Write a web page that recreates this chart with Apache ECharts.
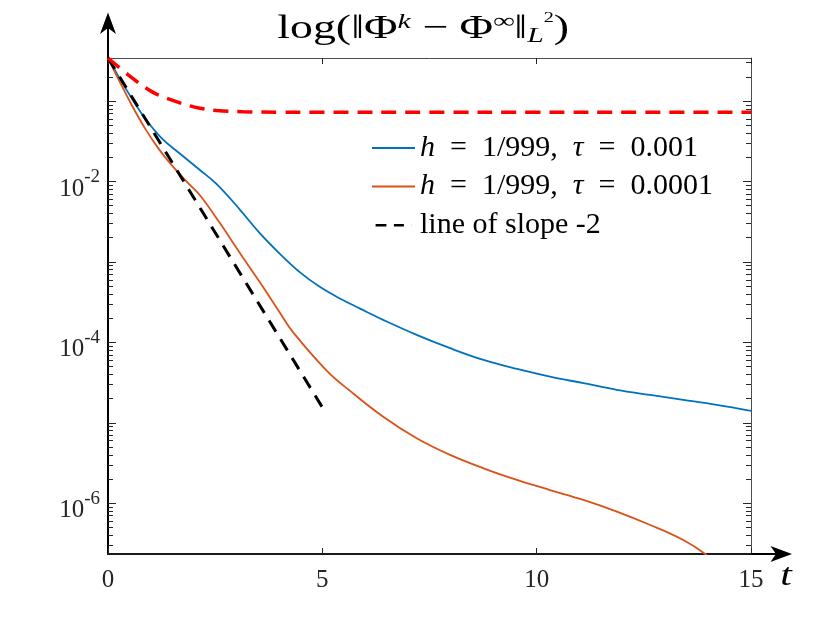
<!DOCTYPE html>
<html>
<head>
<meta charset="utf-8">
<script src="https://cdn.jsdelivr.net/npm/echarts@6/dist/echarts.min.js"></script>
<style>html,body{margin:0;padding:0;background:#fff}#c{width:830px;height:623px}</style>
</head>
<body>
<div id="c"></div>
<script>
// ---------------- data ----------------
const seriesNames = ['h = 1/999, τ = 0.001', 'h = 1/999, τ = 0.0001', 'line of slope -2'];

const tBlue = [0, 0.25, 0.55, 0.86, 1.25, 1.71, 2.15, 2.53, 3.08, 3.54, 4.01, 4.48, 4.94, 5.41, 5.88, 6.42, 7.2, 7.98, 8.76, 9.54, 10.31, 11.09, 11.87, 12.65, 13.42, 14.2, 15];
const vBlue = [3.43e-1, 2.0e-1, 1.09e-1, 6.15e-2, 3.47e-2, 2.15e-2, 1.38e-2, 9.33e-3, 4.45e-3, 2.28e-3, 1.26e-3, 7.41e-4, 4.90e-4, 3.51e-4, 2.63e-4, 1.905e-4, 1.24e-4, 8.47e-5, 6.05e-5, 4.68e-5, 3.76e-5, 3.11e-5, 2.57e-5, 2.22e-5, 1.93e-5, 1.67e-5, 1.41e-5];

const tOrange = [0, 0.23, 0.55, 0.86, 1.17, 1.48, 1.87, 2.14, 2.61, 3.08, 3.54, 4.01, 4.32, 5.1, 5.64, 6.42, 7.2, 7.98, 8.76, 9.54, 10.31, 11.09, 11.87, 12.65, 13.42, 13.93, 14.5, 15];
const vOrange = [3.43e-1, 1.93e-1, 8.99e-2, 4.61e-2, 2.60e-2, 1.61e-2, 9.55e-3, 6.79e-3, 3.04e-3, 1.285e-3, 5.62e-4, 2.34e-4, 1.33e-4, 4.47e-5, 2.51e-5, 1.19e-5, 6.43e-6, 3.99e-6, 2.72e-6, 1.95e-6, 1.46e-6, 1.10e-6, 7.87e-7, 5.37e-7, 3.49e-7, 2.34e-7, 1.26e-7, 6.3e-8];

const tSlope = [0, 5];
const vSlope = [3.43e-1, 1.56e-5];

const tRed = [0, 0.47, 1.01, 1.51, 2.02, 2.53, 3.15, 4, 5, 7.5, 10, 12.5, 15];
const vRed = [3.43e-1, 2.12e-1, 1.32e-1, 1.02e-1, 8.41e-2, 7.64e-2, 7.36e-2, 7.28e-2, 7.26e-2, 7.26e-2, 7.26e-2, 7.26e-2, 7.26e-2];

const xTickValues = [0, 5, 10, 15];
const yLabelExponents = [-6, -4, -2];
const yMajorExponents = [-6, -5, -4, -3, -2, -1];
const minorMultipliers = [2, 3, 4, 5, 6, 7, 8, 9];

const X_MIN = 0, X_MAX = 15;
const Y_MIN = 2.34e-7, Y_MAX = 3.43e-1;

// ---------------- layout ----------------
const W = 830, H = 623;
const GL = 108, GT = 58, GR = 751, GB = 554;
const SERIF = '"Liberation Serif", "Times New Roman", serif';
const TICK_COLOR = '#262626';

// tick helper axes run in milli-decades (1000 * log10 of the value), aligned with the log axis
const K = 1000;
const LMIN = Math.log10(Y_MIN) * K, LMAX = Math.log10(Y_MAX) * K;
const majorTicksK = yMajorExponents.map(e => e * K);
const labelTicksK = yLabelExponents.map(e => e * K);
const minorTicksK = [];
for (let k = -7; k <= 0; k++) {
  minorMultipliers.forEach(m => {
    const e = Math.round((Math.log10(m) + k) * K);
    if (e >= LMIN && e <= LMAX) minorTicksK.push(e);
  });
}

const pairs = (t, v) => t.map((x, i) => [x, v[i]]);

function tickAxis(position, values, len, lineColor, withLabels) {
  return {
    type: 'value', position: position, min: LMIN, max: LMAX,
    axisLine: { show: true, onZero: false, lineStyle: { color: lineColor, width: 1 } },
    axisTick: { show: true, inside: true, length: len, customValues: values, lineStyle: { color: TICK_COLOR, width: 1 } },
    axisLabel: withLabels ? {
      show: true, customValues: labelTicksK, margin: 8, padding: [6, 0, 0, 0],
      formatter: v => '{h| }{b|10}{s|' + Math.round(v / K) + '}',
      rich: {
        h: { fontSize: 1, lineHeight: 34 },
        b: { fontFamily: SERIF, fontSize: 25, lineHeight: 25, verticalAlign: 'bottom', color: TICK_COLOR },
        s: { fontFamily: SERIF, fontSize: 19, lineHeight: 19, verticalAlign: 'top', color: TICK_COLOR }
      }
    } : { show: false },
    splitLine: { show: false }
  };
}

const chart = echarts.init(document.getElementById('c'), null, { renderer: 'canvas', width: W, height: H });

const legendRich = {
  i: { fontFamily: SERIF, fontStyle: 'italic', fontSize: 30, color: '#000' }
};
const solidIcon = 'path://M0,0h43v2h-43z';
const dashIcon = 'path://M0,0h13v3h-13zM22,0h12v3h-12zM42.9,0h0.1v3h-0.1z';

chart.setOption({
  animation: false,
  backgroundColor: '#fff',
  grid: { left: GL, top: GT, right: W - GR, bottom: H - GB, containLabel: false },
  legend: {
    orient: 'vertical', left: 372, top: 133, padding: 0,
    itemWidth: 43, itemHeight: 2.5, itemGap: 8.6,
    selectedMode: false,
    data: [
      { name: seriesNames[0], icon: solidIcon },
      { name: seriesNames[1], icon: solidIcon },
      { name: seriesNames[2], icon: dashIcon }
    ],
    textStyle: { fontFamily: SERIF, fontSize: 30, lineHeight: 30, color: '#000', rich: legendRich },
    formatter: name => name
      .replace(/ = /g, '\u2002=\u2002')
      .replace(/, /g, ',\u2002')
      .replace(/h/g, '{i|h}')
      .replace(/τ/g, '{i|τ}')
  },
  xAxis: [
    {
      type: 'value', position: 'bottom', min: X_MIN, max: X_MAX, interval: 5,
      axisLine: { show: true, onZero: false, lineStyle: { color: '#1a1a1a', width: 2 } },
      axisTick: { show: true, inside: true, length: 6, customValues: xTickValues, lineStyle: { color: TICK_COLOR } },
      axisLabel: { show: true, customValues: xTickValues, margin: 14, fontFamily: SERIF, fontSize: 25, color: TICK_COLOR },
      splitLine: { show: false }
    },
    {
      type: 'value', position: 'top', min: X_MIN, max: X_MAX, interval: 5,
      axisLine: { show: true, onZero: false, lineStyle: { color: '#4d4d4d', width: 1 } },
      axisTick: { show: true, inside: true, length: 6, customValues: xTickValues, lineStyle: { color: TICK_COLOR } },
      axisLabel: { show: false },
      splitLine: { show: false }
    }
  ],
  yAxis: [
    {
      type: 'log', logBase: 10, position: 'left', min: Y_MIN, max: Y_MAX,
      axisLine: { show: true, onZero: false, lineStyle: { color: '#000', width: 2 } },
      axisTick: { show: false }, axisLabel: { show: false }, splitLine: { show: false }, minorTick: { show: false }
    },
    tickAxis('left', majorTicksK, 8, 'rgba(0,0,0,0)', true),
    tickAxis('left', minorTicksK, 5, 'rgba(0,0,0,0)', false),
    tickAxis('right', majorTicksK, 8, '#4d4d4d', false),
    tickAxis('right', minorTicksK, 5, 'rgba(0,0,0,0)', false)
  ],
  series: [
    {
      name: seriesNames[0], type: 'line', xAxisIndex: 0, yAxisIndex: 0,
      data: pairs(tBlue, vBlue), showSymbol: false, symbol: 'none', smooth: 0.4, clip: true,
      lineStyle: { color: '#0072BD', width: 1.8 }, itemStyle: { color: '#0072BD' }, z: 3
    },
    {
      name: seriesNames[1], type: 'line', xAxisIndex: 0, yAxisIndex: 0,
      data: pairs(tOrange, vOrange), showSymbol: false, symbol: 'none', smooth: 0.4, clip: true,
      lineStyle: { color: '#D95319', width: 1.8 }, itemStyle: { color: '#D95319' }, z: 3
    },
    {
      name: seriesNames[2], type: 'line', xAxisIndex: 0, yAxisIndex: 0,
      data: pairs(tSlope, vSlope), showSymbol: false, symbol: 'none', clip: true,
      lineStyle: { color: '#000', width: 3, type: [13, 9] }, itemStyle: { color: '#000' }, z: 4
    },
    {
      name: 'reference', type: 'line', xAxisIndex: 0, yAxisIndex: 0,
      data: pairs(tRed, vRed), showSymbol: false, symbol: 'none', smooth: 0.4, clip: true,
      lineStyle: { color: '#FF0000', width: 3.5, type: [15, 9] }, itemStyle: { color: '#FF0000' }, z: 4
    }
  ],
  graphic: [
    { type: 'line', shape: { x1: GL, y1: GT, x2: GL, y2: 26 }, style: { stroke: '#000', lineWidth: 2 }, z: 10 },
    { type: 'polygon', shape: { points: [[GL, 12.5], [GL - 8, 34], [GL, 28], [GL + 8, 34]] }, style: { fill: '#000' }, z: 10 },
    { type: 'line', shape: { x1: GR, y1: GB, x2: 778, y2: GB }, style: { stroke: '#000', lineWidth: 2 }, z: 10 },
    { type: 'polygon', shape: { points: [[792, GB], [770.5, GB - 8], [776, GB], [770.5, GB + 8]] }, style: { fill: '#000' }, z: 10 },
    {
      type: 'text', x: 786, y: 577, scaleX: 1.3, z: 10,
      style: { text: 't', fontFamily: SERIF, fontStyle: 'italic', fontSize: 32, fill: '#000', align: 'center', verticalAlign: 'middle' }
    },
    {
      type: 'text', x: 423, y: 29, scaleX: 1.35, z: 10,
      style: {
        text: '{z| }{n|log(‖Φ}{u|k}{n| − Φ}{u|∞}{n|‖}{l|L}{q|2}{n|)}',
        align: 'center', verticalAlign: 'middle', fill: '#000',
        rich: {
          z: { fontSize: 1, lineHeight: 36 },
          n: { fontFamily: SERIF, fontSize: 34, lineHeight: 34, verticalAlign: 'middle', fill: '#000' },
          u: { fontFamily: SERIF, fontStyle: 'italic', fontSize: 22, lineHeight: 22, verticalAlign: 'top', fill: '#000' },
          l: { fontFamily: SERIF, fontStyle: 'italic', fontSize: 22, lineHeight: 28, verticalAlign: 'bottom', fill: '#000' },
          q: { fontFamily: SERIF, fontSize: 15, lineHeight: 30, verticalAlign: 'top', fill: '#000' }
        }
      }
    }
  ]
});
</script>
</body>
</html>
